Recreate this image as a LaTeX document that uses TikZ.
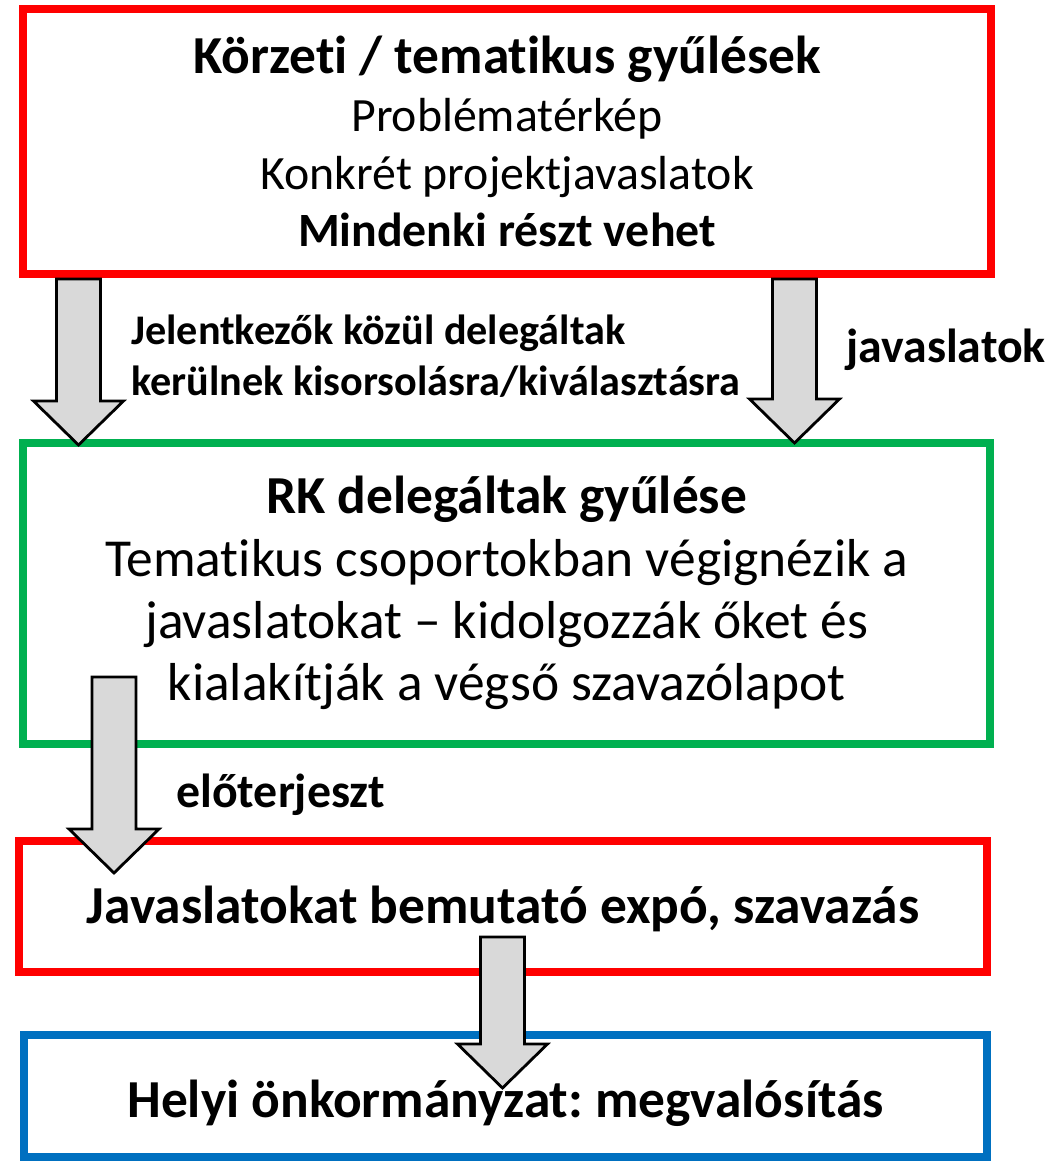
\documentclass[tikz,border=0pt]{standalone}
\usepackage{fontspec}
\setmainfont{Carlito}[Ligatures=NoCommon]
\usetikzlibrary{calc}
\usetikzlibrary{positioning}
\definecolor{boxred}{RGB}{255,0,0}
\definecolor{boxgreen}{RGB}{0,176,80}
\definecolor{boxblue}{RGB}{0,112,192}
\definecolor{arrowgray}{RGB}{217,217,217}
\tikzstyle{stage} = [rectangle, line width=0.2cm, align=center, inner sep=0pt, text=black, text depth=0pt]
\tikzstyle{flowlabel} = [font=\fontsize{34}{41}\selectfont\bfseries, inner sep=0pt]
\tikzstyle{bigarrow} = [draw=black, fill=arrowgray, line width=0.07cm, line join=miter]
\newcommand{\blockarrow}[2]{%
  \draw[bigarrow] ($(#1)+(-22,0)$) -- ($(#1)+(22,0)$) -- ($(#2)+(22,-44)$) -- ($(#2)+(45,-44)$)
    -- (#2) -- ($(#2)+(-45,-44)$) -- ($(#2)+(-22,-44)$) -- cycle;}
\frenchspacing

\begin{document}
\begin{tikzpicture}[x=0.025cm, y=-0.025cm]
\useasboundingbox (0,0) rectangle (1055,1163);

\node (meetings) [stage, draw=boxred, minimum width=24.2cm, minimum height=6.625cm,
  text height=150pt, font=\fontsize{34}{41.2}\selectfont] at (507,141.5) {
  {\fontsize{38}{41.2}\selectfont\bfseries Körzeti / tematikus gyűlések}\\
  Problématérkép\\
  Konkrét projektjavaslatok\\
  \textbf{Mindenki részt vehet}};

\node (delegates) [stage, draw=boxgreen, minimum width=24.16cm, minimum height=7.525cm,
  text height=151.5pt, font=\fontsize{38}{44.1}\selectfont] at (506.75,593.5) {
  \textbf{RK delegáltak gyűlése}\\
  Tematikus csoportokban végignézik a\\
  javaslatokat -- kidolgozzák őket és\\
  kialakítják a végső szavazólapot};

\node (expo) [stage, draw=boxred, minimum width=24.2cm, minimum height=3.25cm,
  text height=30pt, text depth=6.5pt, font=\fontsize{38}{44}\selectfont\bfseries] at (503,906.5) {Javaslatokat bemutató expó, szavazás};

\node (council) [stage, draw=boxblue, minimum width=24.075cm, minimum height=3.05cm,
  text height=30pt, font=\fontsize{38}{44}\selectfont\bfseries] at (505.5,1096) {Helyi önkormányzat: megvalósítás};

% block arrows
\coordinate (a1s) at (78.5,279);
\coordinate (a1t) at (78.5,445);
\coordinate (a2s) at (794.5,279);
\coordinate (a2t) at (794.5,443);
\coordinate (a3s) at (114,677);
\coordinate (a3t) at (114,873);
\coordinate (a4s) at (502.5,937);
\coordinate (a4t) at (502.5,1088);
\blockarrow{a1s}{a1t}
\blockarrow{a2s}{a2t}
\blockarrow{a3s}{a3t}
\blockarrow{a4s}{a4t}

\node (selection) [flowlabel, font=\fontsize{30}{36.3}\selectfont\bfseries, align=left, anchor=west] at (131,356) {Jelentkezők közül delegáltak\\kerülnek kisorsolásra/kiválasztásra};
\node (proposals) [flowlabel, anchor=base] at (946,362) {javaslatok};
\node (submit) [flowlabel, anchor=base] at (281,807) {előterjeszt};
\end{tikzpicture}
\end{document}
